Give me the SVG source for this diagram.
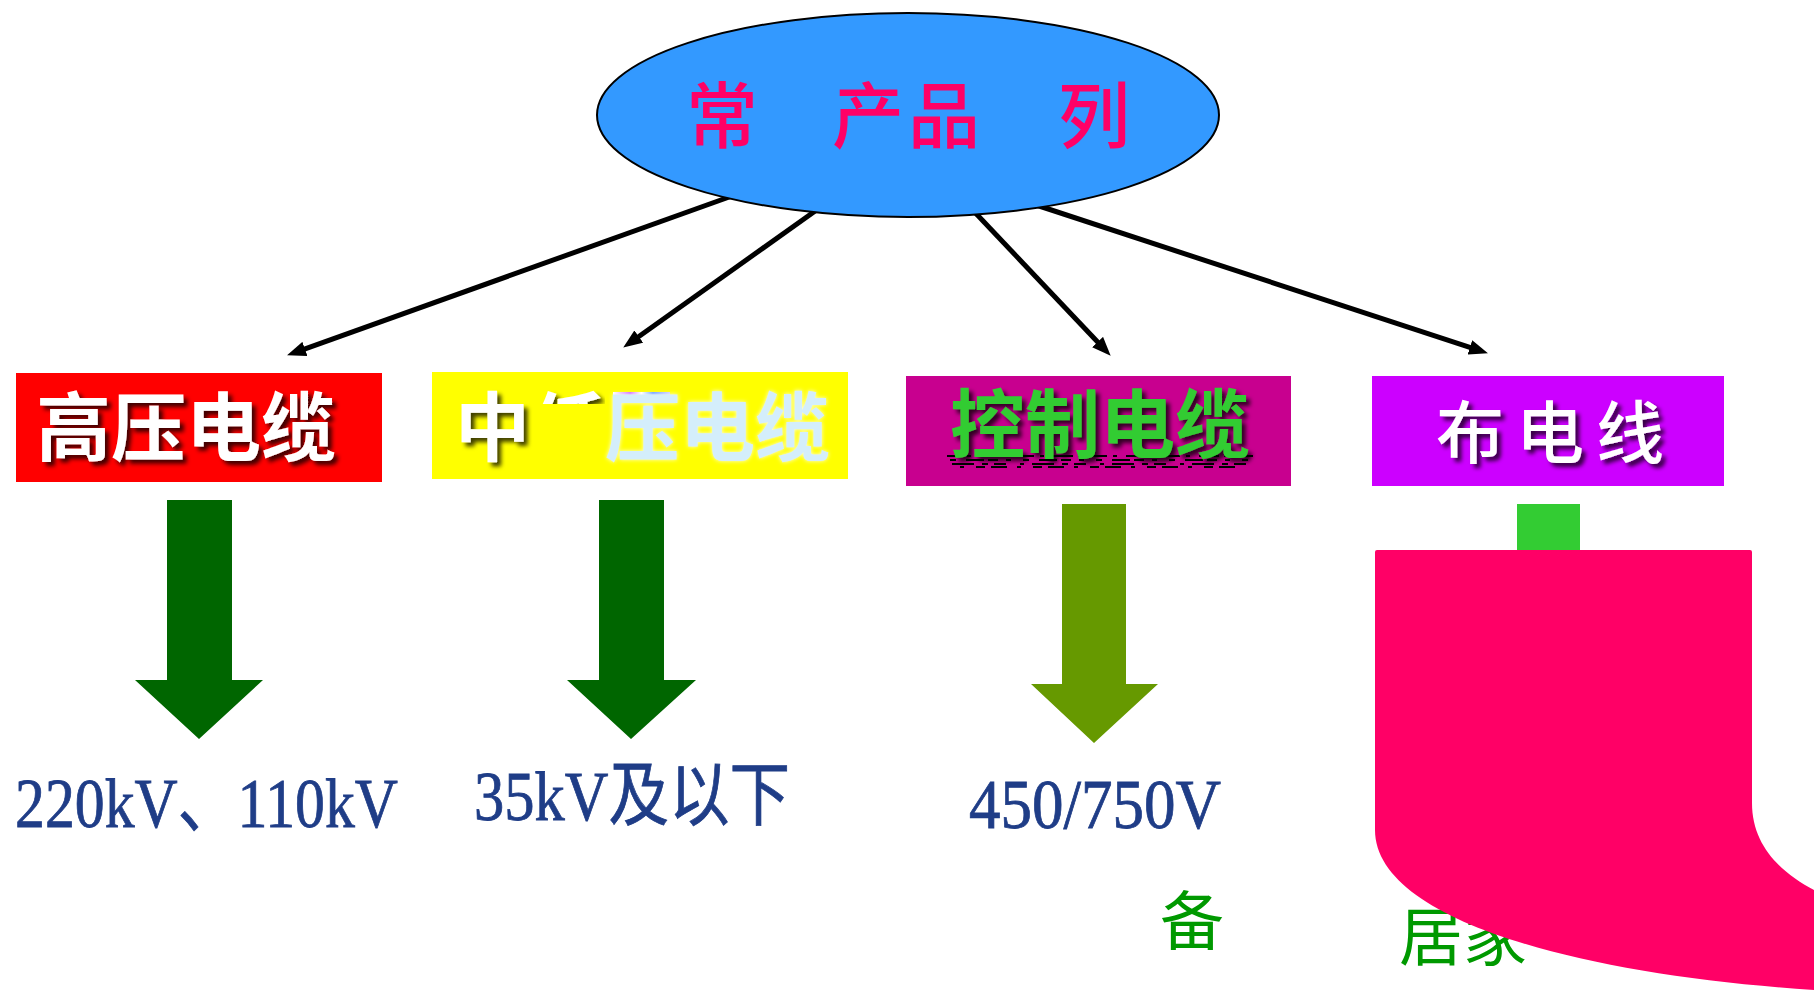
<svg xmlns="http://www.w3.org/2000/svg" width="1814" height="992" viewBox="0 0 1814 992">
<style>
.cjk{font-family:"Noto Sans CJK SC","Noto Sans CJK JP",sans-serif}
.lbl{font-family:"Noto Sans CJK SC",sans-serif;font-weight:700;font-size:75px}
.volt{font-family:"Liberation Serif","Noto Sans CJK SC",serif;font-size:70px;fill:#1F3D87;stroke:#1F3D87;stroke-width:0.8}
.conn{stroke:#000;stroke-width:5;fill:none;marker-end:url(#ah)}
.green{fill:#009900;font-family:"Noto Sans CJK SC",sans-serif;font-size:64px}
</style>
<defs>
<marker id="ah" markerUnits="userSpaceOnUse" markerWidth="19" markerHeight="15" refX="8" refY="7.5" orient="auto">
<path d="M0,0 L19,7.5 L0,15 z" fill="#000"/>
</marker>
<filter id="sh" x="-10%" y="-20%" width="130%" height="150%">
<feDropShadow dx="4" dy="4" stdDeviation="2" flood-color="#000" flood-opacity="0.75"/>
</filter>
<filter id="glow" x="-10%" y="-20%" width="130%" height="150%">
<feDropShadow dx="0" dy="0" stdDeviation="2" flood-color="#ffffff" flood-opacity="0.9"/>
</filter>
<clipPath id="cut"><rect x="520" y="370" width="85" height="34"/></clipPath>
<linearGradient id="glitch" x1="0" x2="1" y1="0" y2="0">
<stop offset="0" stop-color="#ffffff"/>
<stop offset="0.3" stop-color="#cc66ff"/>
<stop offset="0.5" stop-color="#ffffff"/>
<stop offset="0.7" stop-color="#6699ff"/>
<stop offset="1" stop-color="#ccccff"/>
</linearGradient>
</defs>
<rect width="1814" height="992" fill="#fff"/>

<g id="connectors">
<line class="conn" x1="746" y1="191" x2="297.4" y2="351.6"/>
<line class="conn" x1="825" y1="204" x2="632.2" y2="341.2"/>
<line class="conn" x1="967" y1="204" x2="1103.1" y2="347.8"/>
<line class="conn" x1="1030" y1="203" x2="1477.5" y2="349.9"/>
</g>

<g id="root">
<ellipse cx="908" cy="115" rx="311" ry="102" fill="#3399FF" stroke="#000" stroke-width="2"/>
<g class="cjk" font-size="72" font-weight="500" fill="#FF0066">
<text x="686" y="142">常</text>
<text x="832" y="142">产</text>
<text x="908" y="142">品</text>
<text x="1058" y="142">列</text>
</g>
</g>

<g id="high-voltage">
<rect x="16" y="373" width="366" height="109" fill="#FF0000"/>
<text class="lbl" x="36" y="455" fill="#fff" filter="url(#sh)">高压电缆</text>
</g>

<g id="mid-low-voltage">
<rect x="432" y="372" width="416" height="107" fill="#FFFF00"/>
<text class="lbl" x="455" y="455" fill="#fff" filter="url(#sh)">中</text>
<text class="lbl" x="530" y="455" fill="#fff" filter="url(#sh)" clip-path="url(#cut)">低</text>
<rect x="613" y="392" width="57" height="5" fill="url(#glitch)"/>
<text class="lbl" x="605" y="455" fill="#D4EEFB" filter="url(#glow)">压电缆</text>
</g>

<g id="control-cable">
<rect x="906" y="376" width="385" height="110" fill="#C8008F"/>
<g stroke="#000" stroke-width="2">
<line x1="947" y1="456" x2="1257" y2="456" stroke-dasharray="14 6 4 9 20 5 8 7"/>
<line x1="950" y1="460" x2="1255" y2="460" stroke-dasharray="6 10 18 4 10 8 5 12"/>
<line x1="952" y1="464" x2="1250" y2="464" stroke-dasharray="22 8 6 6 12 14 4 8"/>
<line x1="960" y1="467" x2="1240" y2="467" stroke-dasharray="4 12 9 6 16 10"/>
</g>
<text class="lbl" x="950" y="452" fill="#33CC33" filter="url(#sh)" font-size="74">控制电缆</text>
</g>

<g id="wire">
<rect x="1372" y="376" width="352" height="110" fill="#CC00FF"/>
<text class="cjk" x="1436" y="458" fill="#fff" filter="url(#sh)" font-size="68" font-weight="500" letter-spacing="12">布电线</text>
</g>

<g id="arrow-high">
<polygon points="167,500 232,500 232,680 263,680 199,739 135,680 167,680" fill="#006600"/>
</g>
<g id="arrow-mid">
<polygon points="599,500 664,500 664,680 696,680 631,739 567,680 599,680" fill="#006600"/>
</g>
<g id="arrow-control">
<polygon points="1062,504 1126,504 1126,684 1158,684 1094,743 1031,684 1062,684" fill="#669900"/>
</g>

<g id="label-high">
<text class="volt" x="15" y="827" textLength="383" lengthAdjust="spacingAndGlyphs">220kV、110kV</text>
</g>
<g id="label-mid">
<text class="volt" x="474" y="820" textLength="316" lengthAdjust="spacingAndGlyphs">35kV及以下</text>
</g>
<g id="label-control">
<text class="volt" x="969" y="828" textLength="252" lengthAdjust="spacingAndGlyphs">450/750V</text>
</g>

<g id="label-equip">
<text class="green" x="1160" y="944">备</text>
</g>
<g id="label-home">
<text class="green" x="1399" y="960">居家</text>
</g>

<g id="wire-shape">
<rect x="1517" y="504" width="63" height="50" fill="#33CC33"/>
<path d="M1377,550 L1750,550 Q1752,550 1752,552 L1752,803 C1752,845 1780,872 1814,890 L1814,992 L1814,990 C1580,975 1375,920 1375,830 L1375,552 Q1375,550 1377,550 Z" fill="#FF0066"/>
</g>
</svg>
